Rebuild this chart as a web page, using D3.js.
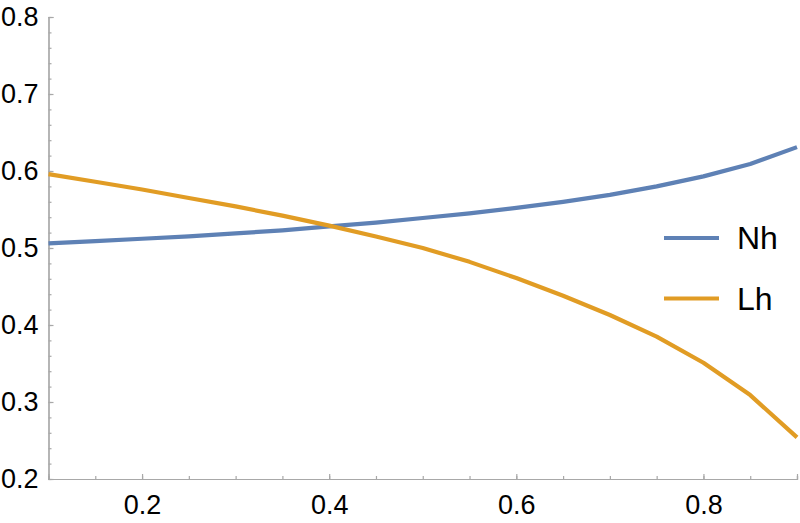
<!DOCTYPE html>
<html>
<head>
<meta charset="utf-8">
<script src="https://cdn.jsdelivr.net/npm/d3@7"></script>
<style>
  body { margin: 0; background: #fff; }
  svg { display: block; font-family: "Liberation Sans", Arial, sans-serif; }
  .axis path, .axis line { stroke: #a8a8a8; stroke-width: 1.2; }
  .axis text { fill: #000; font-size: 27px; }
</style>
</head>
<body>
<svg width="800" height="523"></svg>
<script>
// data
var xs = [0.1, 0.15, 0.2, 0.25, 0.3, 0.35, 0.4, 0.45, 0.5, 0.55, 0.6, 0.65, 0.7, 0.75, 0.8, 0.85, 0.9];
var nh = [0.506, 0.509, 0.512, 0.515, 0.519, 0.523, 0.528, 0.533, 0.539, 0.545, 0.552, 0.560, 0.569, 0.580, 0.593, 0.609, 0.631];
var lh = [0.596, 0.586, 0.576, 0.565, 0.554, 0.542, 0.529, 0.515, 0.500, 0.482, 0.461, 0.438, 0.413, 0.385, 0.351, 0.309, 0.254];
var seriesNames = ["Nh", "Lh"];
var seriesColors = ["#5e81b5", "#e19c24"];
var xTicks = [0.2, 0.4, 0.6, 0.8];
var yTicks = [0.2, 0.3, 0.4, 0.5, 0.6, 0.7, 0.8];

var svg = d3.select('svg');

var xScale = d3.scaleLinear().domain([0.1, 0.9]).range([48.5, 797]);
var yScale = d3.scaleLinear().domain([0.2, 0.8]).range([479, 17]);

// minor ticks
var xMinor = d3.range(0.1, 0.9001, 0.05).map(function(d) { return +d.toFixed(2); });
var yMinor = d3.range(0.2, 0.8001, 0.02).map(function(d) { return +d.toFixed(2); });

svg.append('g')
  .attr('class', 'axis')
  .attr('transform', 'translate(0,' + yScale(0.2) + ')')
  .call(d3.axisBottom(xScale).tickValues(xMinor).tickSize(-3).tickFormat(''));

svg.append('g')
  .attr('class', 'axis')
  .attr('transform', 'translate(' + xScale(0.1) + ',0)')
  .call(d3.axisLeft(yScale).tickValues(yMinor).tickSize(-3).tickFormat(''));

svg.append('g')
  .attr('class', 'axis')
  .attr('transform', 'translate(0,' + yScale(0.2) + ')')
  .call(d3.axisBottom(xScale).tickValues(xTicks).tickSize(-5).tickPadding(16).tickFormat(d3.format('.1f')));

svg.append('g')
  .attr('class', 'axis')
  .attr('transform', 'translate(' + xScale(0.1) + ',0)')
  .call(d3.axisLeft(yScale).tickValues(yTicks).tickSize(-5).tickPadding(10).tickFormat(d3.format('.1f')));

svg.selectAll('.axis path.domain').attr('stroke-width', 1.3);

var series = [nh, lh];
var line = d3.line()
  .x(function(d, i) { return xScale(xs[i]); })
  .y(function(d) { return yScale(d); });

svg.selectAll('path.curve').data(series)
  .enter().append('path')
  .attr('class', 'curve')
  .attr('d', line)
  .attr('fill', 'none')
  .attr('stroke', function(d, i) { return seriesColors[i]; })
  .attr('stroke-width', 4.2)
  .attr('stroke-linejoin', 'round');

// legend
var legend = svg.append('g').attr('transform', 'translate(664,238)');
var item = legend.selectAll('g').data(seriesNames)
  .enter().append('g')
  .attr('transform', function(d, i) { return 'translate(0,' + (i * 60.5) + ')'; });
item.append('line')
  .attr('x1', 0).attr('x2', 55)
  .attr('stroke', function(d, i) { return seriesColors[i]; })
  .attr('stroke-width', 4.2);
item.append('text')
  .attr('x', 73)
  .attr('dy', '0.35em')
  .attr('font-size', 32)
  .text(function(d) { return d; });
</script>
</body>
</html>
